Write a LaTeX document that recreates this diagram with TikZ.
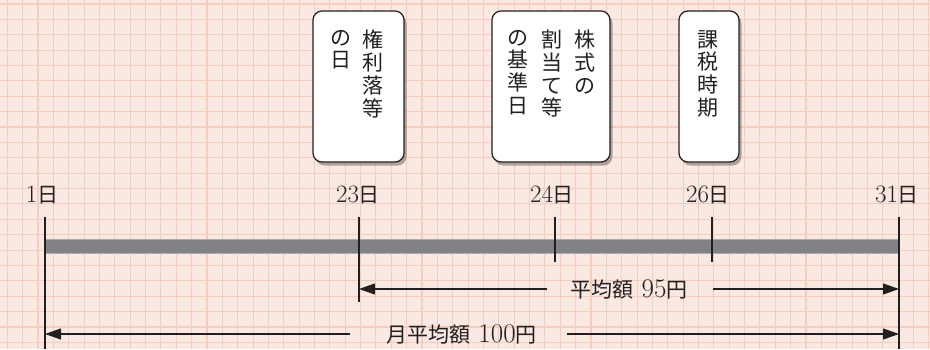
\documentclass[tikz,border=0pt]{standalone}
\usepackage{fontspec}
\newfontfamily\jp{Noto Sans CJK JP}
\usetikzlibrary{arrows.meta,shadows}
\definecolor{bgc}{RGB}{250,233,226}
\definecolor{gridc}{RGB}{245,205,188}
\definecolor{barc}{RGB}{128,130,133}
\definecolor{baredge}{RGB}{170,171,173}
\definecolor{inkc}{RGB}{35,31,32}
\newcommand\jday{{\jp\fontsize{21}{21}\selectfont 日}}
\newcommand\jtxt[1]{{\jp\fontsize{21}{21}\selectfont #1}}
\begin{document}
\begin{tikzpicture}[x=1pt,y=-1pt,
  daylabel/.style={inner sep=0pt, font=\fontsize{25}{25}\selectfont, text=inkc},
  card/.style={draw=inkc, line width=1.2pt, fill=white, rounded corners=9pt,
    drop shadow={shadow xshift=2.5pt, shadow yshift=-3.5pt, fill=black, opacity=0.3}},
  vtext/.style={inner sep=0pt, anchor=north, align=center, font=\jp\fontsize{21}{22.7}\selectfont, text=inkc},
  tickline/.style={draw=inkc, line width=1.4pt},
  span/.style={draw=inkc, line width=1.2pt, -{Triangle[length=16pt,width=11pt]}},
  spantext/.style={inner sep=0pt, font=\fontsize{27}{27}\selectfont, text=inkc},
  gridline/.style={draw=gridc, line width=1.1pt}]
\useasboundingbox (0,0) rectangle (930,349);
\fill[bgc] (0,0) rectangle (930,349);
\foreach \i in {0,...,60} \draw[gridline] ({7.3+15.36*\i},0) -- ({7.3+15.36*\i},349);
\foreach \j in {0,...,22} \draw[gridline] (0,{4+15.38*\j}) -- (930,{4+15.38*\j});

% cards
\node[card, minimum width=91pt, minimum height=151pt] (c1) at (358.5,86.5) {};
\node[card, minimum width=118pt, minimum height=151pt] (c2) at (551,86.5) {};
\node[card, minimum width=60pt, minimum height=151pt] (c3) at (709,86.5) {};
\node[vtext] (c1a) at (373,30) {権\\利\\落\\等};
\node[vtext] (c1b) at (341,30) {の\\日};
\node[vtext] (c2a) at (585,30) {株\\式\\の};
\node[vtext] (c2b) at (552,30) {割\\当\\て\\等};
\node[vtext] (c2c) at (518,30) {の\\基\\準\\日};
\node[vtext] (c3a) at (708,30) {課\\税\\時\\期};

% bar
\fill[barc, draw=baredge, line width=0.6pt] (45,239.5) rectangle (899,253.5);

% day lines
\coordinate (t1) at (45,217);   \coordinate (b1) at (45,349);
\coordinate (t23) at (359,217); \coordinate (b23) at (359,302);
\coordinate (t24) at (555,217); \coordinate (b24) at (555,262);
\coordinate (t26) at (712,217); \coordinate (b26) at (712,262);
\coordinate (t31) at (899,217); \coordinate (b31) at (899,349);
\draw[tickline] (t1) -- (b1);
\draw[tickline] (t23) -- (b23);
\draw[tickline] (t24) -- (b24);
\draw[tickline] (t26) -- (b26);
\draw[tickline] (t31) -- (b31);

% day labels
\node[daylabel] (l1) at (42,195) {1\jday};
\node[daylabel] (l23) at (358,195) {23\jday};
\node[daylabel] (l24) at (552,195) {24\jday};
\node[daylabel] (l26) at (708,195) {26\jday};
\node[daylabel] (l31) at (897,195) {31\jday};

% spans
\node[spantext] (s95) at (629,289) {\jtxt{平均額} 95\jtxt{円}};
\coordinate (s95l) at (547,289); \coordinate (s95r) at (713,289);
\coordinate (e95l) at (359,289); \coordinate (e95r) at (899,289);
\draw[span] (s95l) -- (e95l);
\draw[span] (s95r) -- (e95r);

\node[spantext] (s100) at (461.5,334) {\jtxt{月平均額} 100\jtxt{円}};
\coordinate (s100l) at (350,334); \coordinate (s100r) at (567,334);
\coordinate (e100l) at (45,334); \coordinate (e100r) at (899,334);
\draw[span] (s100l) -- (e100l);
\draw[span] (s100r) -- (e100r);
\end{tikzpicture}
\end{document}
